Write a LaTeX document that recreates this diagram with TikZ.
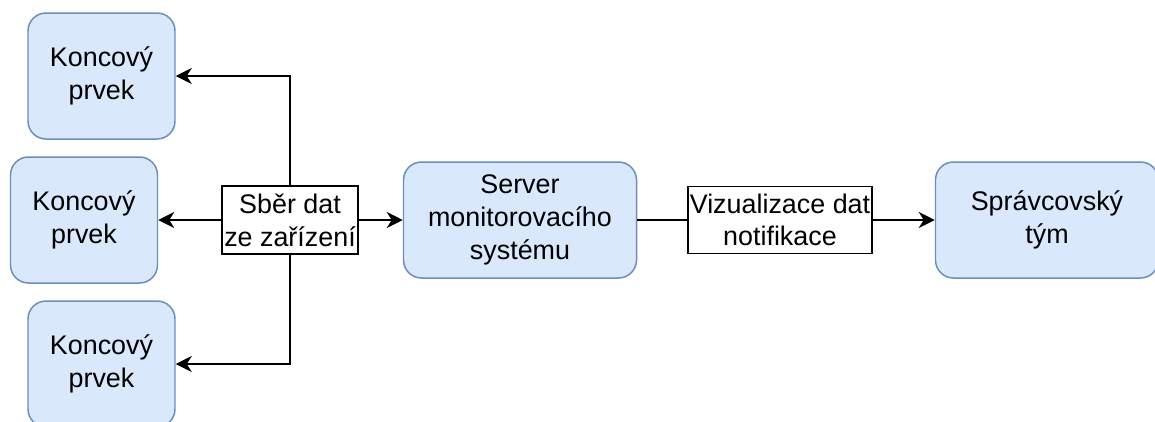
\documentclass[tikz,border=0pt]{standalone}
\usepackage{fontspec}
\setmainfont{Liberation Sans}
\usetikzlibrary{arrows.meta,positioning}

\definecolor{nodeedge}{HTML}{6C8EBF}
\definecolor{nodefill}{HTML}{DAE8FC}

\begin{document}
\begin{tikzpicture}[
  node/.style={draw=nodeedge, line width=0.85pt, fill=nodefill, rounded corners=0.36cm, align=center, font=\fontsize{15.3}{18.6}\selectfont},
  endnode/.style={node, minimum width=2.94cm, minimum height=2.52cm},
  srvnode/.style={node, minimum height=2.32cm},
  tag/.style={draw, line width=0.85pt, fill=white, align=center, inner sep=0.5pt, font=\fontsize{15.3}{18.6}\selectfont},
  arr/.style={-{Stealth[length=0.32cm, width=0.32cm, inset=0.1cm]}, line width=1.1pt},
  plain/.style={line width=1.1pt}
]
\useasboundingbox (0,0) rectangle (23.1,-8.42);

\node[endnode] (end1) at (2.03,-1.52) {Koncový\\prvek};
\node[endnode] (end2) at (1.68,-4.40) {Koncový\\prvek};
\node[endnode] (end3) at (2.03,-7.28) {Koncový\\prvek};

\node[tag, minimum width=2.72cm, minimum height=1.36cm] (collect) at (5.80,-4.40) {Sběr dat\\ze zařízení};
\node[srvnode, minimum width=4.66cm, right=0.88cm of collect] (server) {Server\\monitorovacího\\systému};
\node[tag, minimum width=3.68cm, minimum height=1.34cm, right=1.0cm of server] (viz) {Vizualizace dat\\notifikace};
\node[srvnode, minimum width=4.46cm, right=1.24cm of viz] (team) {Správcovský\\tým};

\draw[arr] (collect.north) |- (end1.east);
\draw[arr] (collect) -- (end2);
\draw[arr] (collect.south) |- (end3.east);
\draw[arr] (collect) -- (server);
\draw[plain] (server) -- (viz);
\draw[arr] (viz) -- (team);

\end{tikzpicture}
\end{document}
